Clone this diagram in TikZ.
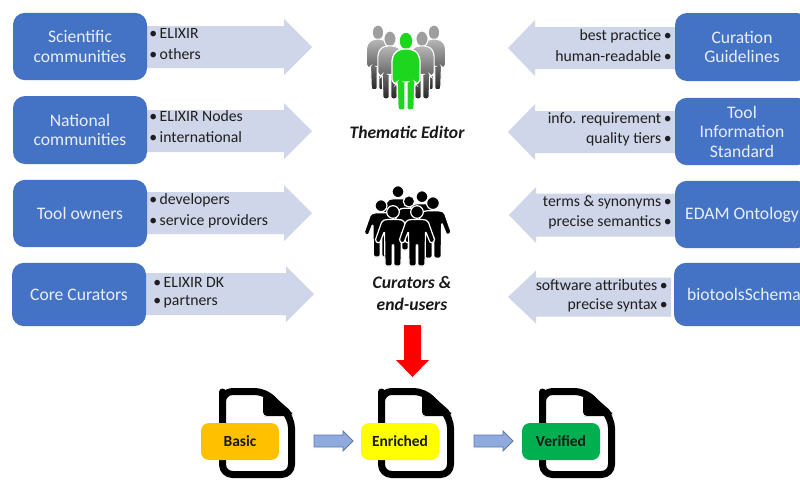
\documentclass[tikz,border=0pt]{standalone}
\usepackage{fontspec}
\setmainfont{Carlito}
\definecolor{boxblue}{HTML}{4472C4}
\definecolor{arrowpale}{HTML}{D0D6E9}
\definecolor{boxtext}{HTML}{E9EEF8}
\definecolor{listtext}{HTML}{1E1E1E}
\definecolor{smallfill}{HTML}{8FAADC}
\definecolor{smallline}{HTML}{5B7BA8}
\definecolor{basicfill}{HTML}{FFC000}
\definecolor{enrichedfill}{HTML}{FFFF00}
\definecolor{verifiedfill}{HTML}{00B050}
\definecolor{leadgreen}{HTML}{1FD61F}
\newcommand{\blockarrow}[7][arrowpale]{%
  \fill[#1] (#2,#5-#6) -- (#3,#5-#6) -- (#3,#5-#7) -- (#4,#5) -- (#3,#5+#7) -- (#3,#5+#6) -- (#2,#5+#6) -- cycle;}
\newcommand{\calmbody}{(-4,17) -- (-11,20) -- (-14,27) -- (-14,50) -- (-10,52) -- (-9,50)
      -- (-8,78) -- (-1,78) -- (-1,50) -- (1,50) -- (1,78) -- (8,78) -- (9,50)
      -- (10,52) -- (14,50) -- (14,27) -- (11,20) -- (4,17) -- cycle}
\tikzset{
  x=0.75pt, y=-0.75pt,
  bigbox/.style={fill=boxblue, rounded corners=9pt, text=boxtext, align=center,
    minimum width=100.5pt, inner sep=0pt, font=\fontsize{13.2}{14.6}\selectfont},
  listleft/.style={anchor=west, inner sep=0pt, text=listtext, font=\fontsize{11.8}{13}\selectfont},
  listright/.style={anchor=east, inner sep=0pt, text=listtext, font=\fontsize{11.8}{13}\selectfont},
  rolelabel/.style={align=center, inner sep=0pt, text=black!90, font=\fontsize{13.2}{15.8}\selectfont\bfseries\itshape},
  statelabel/.style={rounded corners=6pt, minimum width=58.5pt, minimum height=27.75pt, inner sep=0pt,
    text=black!90, font=\fontsize{11.6}{13}\selectfont\bfseries},
  pagefig/.pic={
    \draw[black, line width=5.25pt, rounded corners=7.5pt, line join=round]
      (3.5,14) -- (3.5,3.5) -- (46,3.5) -- (72.5,30) -- (72.5,86.5) -- (3.5,86.5) -- cycle;
    \fill[black, rounded corners=3pt] (44,4) -- (44,28) -- (49,28) -- (73,28) -- (73,24) -- (50,4) -- cycle;
  },
  greyperson/.pic={
    \path[draw=white, line width=0.8pt, fill=black!38] (0,9) ellipse [x radius=7, y radius=9];
    \path[draw=white, line width=0.8pt, rounded corners=1.5pt, top color=black!28, bottom color=black!85] \calmbody;
  },
  greenperson/.pic={
    \path[draw=white, line width=1pt, fill=leadgreen] (0,9) ellipse [x radius=7, y radius=9];
    \path[draw=white, line width=1pt, fill=leadgreen, rounded corners=1.5pt] \calmbody;
  },
  crowdperson/.pic={
    \draw[white, line width=0.9pt, fill=black] (0,6) circle [radius=6.3];
    \draw[white, line width=0.9pt, fill=black, rounded corners=1.2pt, line join=round]
      (-7,13.5) -- (-11,15) -- (-18,35) -- (-13.5,37.5) -- (-8.5,25) -- (-8,60) -- (-0.8,60) -- (-0.8,39)
      -- (0.8,39) -- (0.8,60) -- (8,60) -- (8.5,25) -- (13.5,37.5) -- (18,35) -- (11,15) -- (7,13.5) -- cycle;
  }
}
\begin{document}
\begin{tikzpicture}
\clip (0,0) rectangle (800,479);
\fill[white] (0,0) rectangle (800,479);

% left arrows
\blockarrow{140}{284}{312}{47}{21}{28}
\blockarrow{140}{284}{312}{131}{21}{28}
\blockarrow{140}{284}{312}{213}{21}{28}
\blockarrow{140}{286}{314}{294}{21}{28}
% right arrows
\blockarrow{682}{535}{508}{48}{21}{28}
\blockarrow{682}{535}{508}{132}{21}{28}
\blockarrow{682}{536}{509}{215}{21.5}{28}
\blockarrow{671}{536}{508}{297}{19.5}{26.5}

% left boxes
\node[bigbox, minimum height=50.5pt] (sci) at (80,46.5) {Scientific\\communities};
\node[bigbox, minimum height=51pt] (nat) at (80,130) {National\\communities};
\node[bigbox, minimum height=50.5pt] (own) at (80,213.5) {Tool owners};
\node[bigbox, minimum height=47.5pt] (core) at (79,294.5) {Core Curators};
% right boxes
\node[bigbox, minimum height=51pt] (cur) at (742,47) {Curation\\Guidelines};
\node[bigbox, minimum height=50.5pt] (tool) at (742,131.5) {Tool\\Information\\Standard};
\node[bigbox, minimum height=50.5pt] (edam) at (742,214.5) {EDAM Ontology};
\node[bigbox, minimum height=47.5pt, minimum width=105pt] (schema) at (744,294.5) {biotoolsSchema};

% left lists
\node[listleft] (l1a) at (149,33) {•\,ELIXIR};
\node[listleft] (l1b) at (149,54) {•\,others};
\node[listleft] (l2a) at (149,116) {•\,ELIXIR Nodes};
\node[listleft] (l2b) at (149,137) {•\,international};
\node[listleft] (l3a) at (149,200) {•\,developers};
\node[listleft] (l3b) at (149,221) {•\,service providers};
\node[listleft] (l4a) at (153,282) {•\,ELIXIR DK};
\node[listleft] (l4b) at (153,302) {•\,partners};
% right lists
\node[listright] (r1a) at (672,36) {best practice\,•};
\node[listright] (r1b) at (672,56) {human-readable\,•};
\node[listright] (r2a) at (672,119) {info. requirement\,•};
\node[listright] (r2b) at (672,139) {quality tiers\,•};
\node[listright] (r3a) at (672,202) {terms \& synonyms\,•};
\node[listright] (r3b) at (672,222) {precise semantics\,•};
\node[listright] (r4a) at (668,285) {software attributes\,•};
\node[listright] (r4b) at (668,305) {precise syntax\,•};

% thematic editor group
\path pic at (378,25) [scale=0.83] {greyperson};
\path pic at (434,25) [scale=0.83] {greyperson};
\path pic at (390,31) [scale=0.87] {greyperson};
\path pic at (422,31) [scale=0.87] {greyperson};
\path pic at (406,32) {greenperson};
\node[rolelabel] (editor) at (407,132) {Thematic Editor};

% curators crowd
\path pic at (398,186) [scale=0.95] {crowdperson};
\path pic at (422,191) [scale=0.95] {crowdperson};
\path pic at (409,196) [scale=0.9] {crowdperson};
\path pic at (381,200) [scale=0.95] {crowdperson};
\path pic at (433,197) [scale=1.02] {crowdperson};
\path pic at (393,206) {crowdperson};
\path pic at (417,206) {crowdperson};
\node[rolelabel] (curators) at (412,293.5) {Curators \&\\end-users};

% red arrow
\fill[red] (404,325) -- (421,325) -- (421,360) -- (429,360) -- (412.5,377) -- (396,360) -- (404,360) -- cycle;

% documents
\path pic at (219,388) {pagefig};
\path pic at (378,388) {pagefig};
\path pic at (539,388) {pagefig};
\node[statelabel, fill=basicfill] (basic) at (240,441.5) {Basic};
\node[statelabel, fill=enrichedfill] (enriched) at (400,441.5) {Enriched};
\node[statelabel, fill=verifiedfill] (verified) at (561,441.5) {Verified};

% small arrows
\draw[smallline, fill=smallfill, line width=0.6pt] (314,435) -- (343,435) -- (343,431) -- (353,441) -- (343,451) -- (343,447) -- (314,447) -- cycle;
\draw[smallline, fill=smallfill, line width=0.6pt] (474,435) -- (503,435) -- (503,431) -- (513,441) -- (503,451) -- (503,447) -- (474,447) -- cycle;
\end{tikzpicture}
\end{document}
